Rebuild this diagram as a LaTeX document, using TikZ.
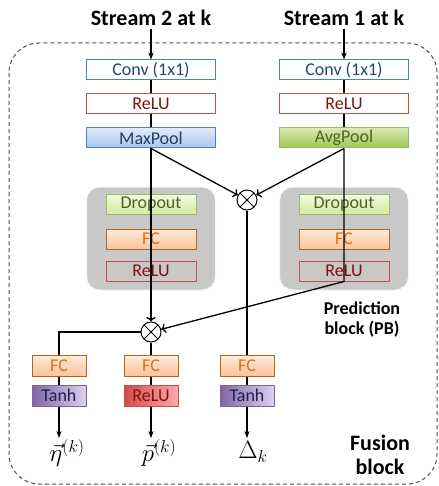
\documentclass[tikz,border=0pt]{standalone}
\usepackage{fontspec}
\setmainfont{Carlito}
\usepackage{amsmath}
\usepackage{tikz}
\usetikzlibrary{arrows.meta}

\definecolor{ConvBlue}{HTML}{4F81BD}
\definecolor{ConvText}{HTML}{1F497D}
\definecolor{ReluRed}{HTML}{C0504D}
\definecolor{ReluText}{HTML}{7F1010}
\definecolor{MaxTop}{HTML}{E0EAF8}
\definecolor{MaxBot}{HTML}{A8C6EE}
\definecolor{MaxText}{HTML}{243F60}
\definecolor{AvgLine}{HTML}{9BBB59}
\definecolor{AvgTop}{HTML}{DCEAB4}
\definecolor{AvgBot}{HTML}{9CC852}
\definecolor{OliveText}{HTML}{4F6228}
\definecolor{DropTop}{HTML}{F2F9E0}
\definecolor{DropBot}{HTML}{D5EBA6}
\definecolor{FcLine}{HTML}{B8651E}
\definecolor{FcTop}{HTML}{FDEBDD}
\definecolor{FcBot}{HTML}{FBC49C}
\definecolor{FcText}{HTML}{E46C0A}
\definecolor{TanhLeft}{HTML}{8064A2}
\definecolor{TanhRight}{HTML}{DCD0F2}
\definecolor{TanhText}{HTML}{1F1F4A}
\definecolor{ReluLeft}{HTML}{D64B48}
\definecolor{ReluRight}{HTML}{F8AAAA}
\definecolor{BlockGrey}{HTML}{C8C8C8}
\definecolor{FrameGrey}{HTML}{505050}

\begin{document}
\begin{tikzpicture}[x=1pt, y=-1pt,
	box/.style={draw, line width=1pt, minimum height=20pt, inner sep=0pt, font=\fontsize{18}{18}\selectfont},
	wide/.style={box, minimum width=129pt},
	mid/.style={box, minimum width=90pt},
	small/.style={box, minimum width=54pt, minimum height=21pt},
	conv/.style={draw=ConvBlue, text=ConvText, fill=white},
	relu/.style={draw=ReluRed, text=ReluText},
	maxpool/.style={draw=ConvBlue, text=MaxText, top color=MaxTop, bottom color=MaxBot},
	avgpool/.style={draw=AvgLine, text=OliveText, top color=AvgTop, bottom color=AvgBot},
	dropout/.style={draw=AvgLine, text=OliveText, top color=DropTop, bottom color=DropBot},
	fc/.style={draw=FcLine, text=FcText, top color=FcTop, bottom color=FcBot},
	tanh/.style={draw=TanhLeft, text=TanhText, left color=TanhLeft, right color=TanhRight},
	reluout/.style={draw=ReluRed, text=ReluText, left color=ReluLeft, right color=ReluRight},
	pblock/.style={fill=BlockGrey, draw=white!85!BlockGrey, line width=1pt, rounded corners=13pt, minimum width=129pt, minimum height=103pt},
	mult/.style={circle, draw, fill=white, line width=1pt, minimum size=20pt, inner sep=0pt,
		path picture={\draw[line width=1pt] (path picture bounding box.north west) -- (path picture bounding box.south east)
			(path picture bounding box.north east) -- (path picture bounding box.south west);}},
	title/.style={font=\fontsize{22}{22}\selectfont\bfseries},
	flow/.style={line width=1.3pt},
	outlabel/.style={font=\fontsize{27}{27}\selectfont}
	]
	\useasboundingbox (0,0) rectangle (438,486);

	% fusion frame
	\draw[FrameGrey, line width=1pt, dash pattern=on 4pt off 3pt, rounded corners=30pt] (9,43) rectangle (437,484);

	\node[title] (s2) at (151,18) {Stream 2 at k};
	\node[title] (s1) at (344,18) {Stream 1 at k};

	% stream 2
	\node[wide, conv] (convL) at (151,70) {Conv (1x1)};
	\node[wide, relu] (reluL) at (151,104) {ReLU};
	\node[wide, maxpool] (poolL) at (151,138) {MaxPool};
	\node[pblock] (blkL) at (151,238.5) {};
	\node[mid, dropout] (dropL) at (151,204) {Dropout};
	\node[mid, fc] (fcL) at (151,239) {FC};
	\node[mid, relu] (reluL2) at (151,271) {ReLU};

	% stream 1
	\node[wide, conv] (convR) at (344,70) {Conv (1x1)};
	\node[wide, relu] (reluR) at (344,104) {ReLU};
	\node[wide, avgpool] (poolR) at (344,138) {AvgPool};
	\node[pblock] (blkR) at (344,238.5) {};
	\node[mid, dropout] (dropR) at (344,204) {Dropout};
	\node[mid, fc] (fcR) at (344,239) {FC};
	\node[mid, relu] (reluR2) at (344,271) {ReLU};

	\node[mult] (mulA) at (247,200) {};
	\node[mult] (mulB) at (151,332) {};

	\node[title, font=\fontsize{18}{20}\selectfont\bfseries, align=center] (pbtxt) at (362,320) {Prediction\\block (PB)};
	\node[title, align=center, font=\fontsize{22}{24}\selectfont\bfseries] (fbtxt) at (380,455) {Fusion\\block};

	% heads
	\node[small, fc] (fcA) at (59,365.5) {FC};
	\node[small, tanh] (tanhA) at (59,395.5) {Tanh};
	\node[small, fc] (fcB) at (151,365.5) {FC};
	\node[small, reluout] (reluB) at (151,395.5) {ReLU};
	\node[small, fc] (fcC) at (247,365.5) {FC};
	\node[small, tanh] (tanhC) at (247,395.5) {Tanh};

	\node[outlabel] (eta) at (67,453) {$\vec{\eta}^{(k)}$};
	\node[outlabel] (pvec) at (159,453) {$\vec{p}^{(k)}$};
	\node[outlabel, font=\fontsize{25}{25}\selectfont] (delta) at (253,452) {$\Delta_k$};

	% connectors
	\draw[line width=2pt, -{Stealth[length=7pt]}] (s2) -- (convL);
	\draw[line width=2pt, -{Stealth[length=7pt]}] (s1) -- (convR);
	\draw[flow] (convL) -- (reluL);
	\draw[flow] (reluL) -- (poolL);
	\draw[flow] (convR) -- (reluR);
	\draw[flow] (reluR) -- (poolR);
	\draw[flow, ->] (poolL.south) -- (mulA);
	\draw[flow, ->] (poolR.south) -- (mulA);
	\draw[flow, ->] (poolL.south) -- (mulB);
	\draw[flow, ->] (poolR.south) -- (reluR2.south) -- (mulB);
	\draw[flow] (mulA) -- (fcC);
	\draw[flow] (mulB) -| (fcA);
	\draw[flow] (mulB) -- (fcB);
	\draw[flow] (fcA) -- (tanhA);
	\draw[flow] (fcB) -- (reluB);
	\draw[flow] (fcC) -- (tanhC);
	\draw[flow, -{Stealth[length=7pt]}] (tanhA) -- (tanhA |- 0,438);
	\draw[flow, -{Stealth[length=7pt]}] (reluB) -- (reluB |- 0,438);
	\draw[flow, -{Stealth[length=7pt]}] (tanhC) -- (tanhC |- 0,438);
\end{tikzpicture}
\end{document}
